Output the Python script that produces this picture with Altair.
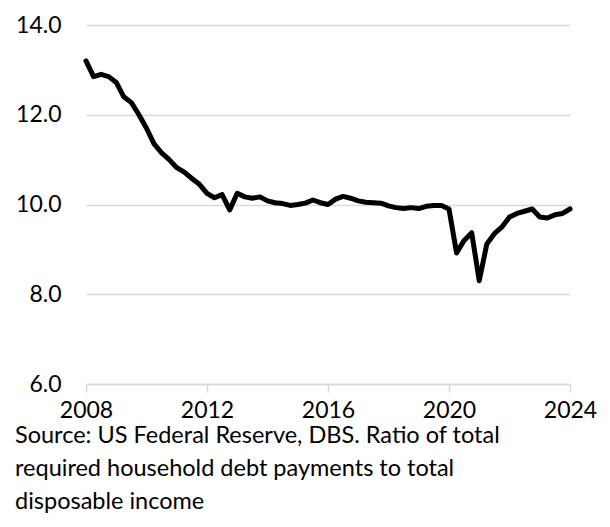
import altair as alt
import pandas as pd

years = [2008 + i * 0.25 for i in range(65)]
ratio = [
    13.2, 12.85, 12.9, 12.85,
    12.72, 12.4, 12.27, 12.0,
    11.7, 11.35, 11.15, 11.0,
    10.82, 10.72, 10.58, 10.45,
    10.25, 10.15, 10.22, 9.88,
    10.25, 10.17, 10.14, 10.17,
    10.08, 10.04, 10.02, 9.98,
    10.0, 10.03, 10.1, 10.04,
    10.0, 10.12, 10.18, 10.14,
    10.08, 10.05, 10.04, 10.03,
    9.97, 9.93, 9.91, 9.93,
    9.91, 9.96, 9.98, 9.98,
    9.9, 8.92, 9.2, 9.37,
    8.3, 9.12, 9.35, 9.5,
    9.72, 9.8, 9.85, 9.9,
    9.72, 9.7, 9.77, 9.8,
    9.9,
]
x_ticks = [2008, 2012, 2016, 2020, 2024]
y_ticks = [6, 8, 10, 12, 14]
caption = [
    "Source: US Federal Reserve, DBS. Ratio of total",
    "required household debt payments to total",
    "disposable income",
]

df = pd.DataFrame({"year": years, "ratio": ratio})

FONT = "Lato"

chart = (
    alt.Chart(df)
    .mark_line(color="black", strokeWidth=5, strokeJoin="round", strokeCap="round")
    .encode(
        x=alt.X(
            "year:Q",
            scale=alt.Scale(domain=[2008, 2024], nice=False, zero=False),
            axis=alt.Axis(
                values=x_ticks,
                format="d",
                title=None,
                grid=False,
                domainColor="#d9d9d9",
                domainWidth=1.5,
                tickColor="#d9d9d9",
                tickWidth=1.5,
                tickSize=8,
                labelFont=FONT,
                labelFontSize=23,
                labelColor="black",
                labelPadding=7,
                labelFlush=False,
            ),
        ),
        y=alt.Y(
            "ratio:Q",
            scale=alt.Scale(domain=[6, 14], nice=False, zero=False),
            axis=alt.Axis(
                values=y_ticks,
                format=".1f",
                title=None,
                grid=True,
                gridColor="#d9d9d9",
                gridWidth=1.5,
                domain=False,
                ticks=False,
                labelFont=FONT,
                labelFontSize=23,
                labelColor="black",
                labelPadding=25,
            ),
        ),
    )
    .properties(
        width=484,
        height=359,
        autosize="none",
        padding={"left": 78, "top": 17, "right": 32, "bottom": 135},
        title=alt.TitleParams(
            text=caption,
            orient="bottom",
            anchor="start",
            frame="group",
            dx=-71,
            dy=-6,
            offset=8,
            font=FONT,
            fontSize=23.5,
            fontWeight="normal",
            color="black",
            lineHeight=33,
        ),
    )
    .configure_view(stroke=None)
)

chart.save("out.html", embed_options={"renderer": "svg", "actions": False})
